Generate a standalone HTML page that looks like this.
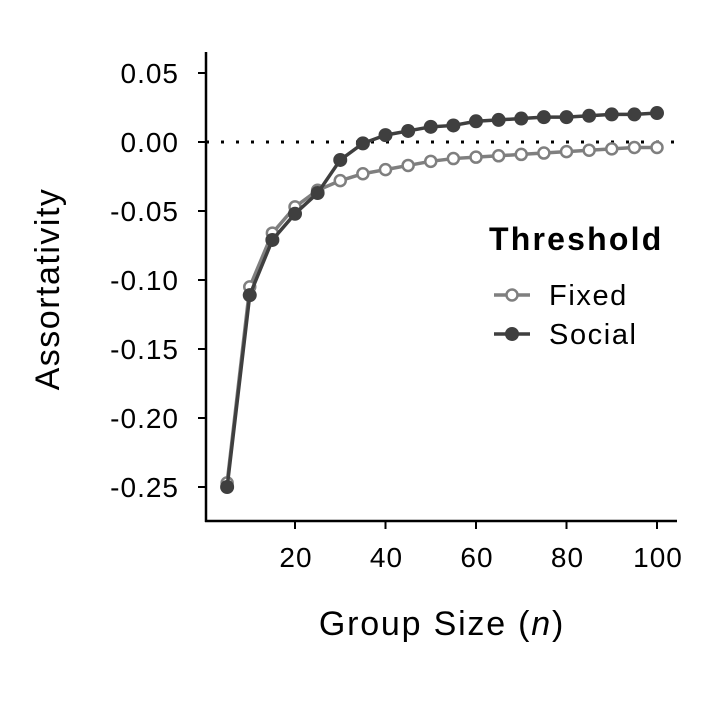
<!DOCTYPE html>
<html><head><meta charset="utf-8">
<style>
html,body{margin:0;padding:0;background:#fff;}
svg{display:block;font-family:"Liberation Sans",Arial,sans-serif;}
</style></head>
<body>
<svg id="chart" width="708" height="708" viewBox="0 0 708 708">
<rect width="708" height="708" fill="#fff"/>
<g id="axes"></g>
<g id="series"></g>
<g id="legend">
  <text x="489" y="250" font-size="32" font-weight="bold" letter-spacing="2.2" fill="#000">Threshold</text>
  <g>
    <line x1="494" y1="295" x2="530" y2="295" stroke="#7f7f7f" stroke-width="3.5"/>
    <circle cx="512" cy="295" r="5.5" fill="#fff" stroke="#7f7f7f" stroke-width="2.5"/>
    <text x="549" y="305" font-size="29" letter-spacing="1.6" fill="#000">Fixed</text>
  </g>
  <g>
    <line x1="494" y1="334" x2="530" y2="334" stroke="#3f3f3f" stroke-width="3.5"/>
    <circle cx="512" cy="334" r="7" fill="#3f3f3f"/>
    <text x="549" y="344" font-size="29" letter-spacing="1.6" fill="#000">Social</text>
  </g>
</g>
</svg>
<script>
const groupSizes = [5,10,15,20,25,30,35,40,45,50,55,60,65,70,75,80,85,90,95,100];
const fixedValues = [-0.247,-0.105,-0.066,-0.047,-0.035,-0.028,-0.023,-0.020,-0.017,-0.014,-0.012,-0.011,-0.010,-0.009,-0.008,-0.007,-0.006,-0.005,-0.004,-0.004];
const socialValues = [-0.250,-0.111,-0.071,-0.052,-0.037,-0.013,-0.001,0.005,0.008,0.011,0.012,0.015,0.016,0.017,0.018,0.018,0.019,0.020,0.020,0.021];
const xTicks = [20,40,60,80,100];
const yTicks = [0.05,0.00,-0.05,-0.10,-0.15,-0.20,-0.25];
const yTickLabels = ["0.05","0.00","-0.05","-0.10","-0.15","-0.20","-0.25"];

const NS = "http://www.w3.org/2000/svg";
function xs(v){ return 295 + (v-20)*4.525; }
function ys(v){ return 142 - v*1380; }
function mk(tag, attrs, parent){
  const e = document.createElementNS(NS, tag);
  for (const k in attrs) e.setAttribute(k, attrs[k]);
  parent.appendChild(e); return e;
}
const axes = document.getElementById('axes');
const yAxis = mk('line',{x1:206,y1:52,x2:206,y2:522,stroke:'#000','stroke-width':2.5},axes);


const xAxis = mk('line',{x1:205,y1:521,x2:677,y2:521,stroke:'#000','stroke-width':2.5},axes);


yTicks.forEach((v,i)=>{
  const y = ys(v);
  mk('line',{x1:198,y1:y,x2:206,y2:y,stroke:'#000','stroke-width':2},axes);
  const t = mk('text',{x:179,y:y+10,'font-size':28,'letter-spacing':1,'text-anchor':'end',fill:'#000'},axes);
  t.textContent = yTickLabels[i];
  
  
});
xTicks.forEach(v=>{
  const x = xs(v);
  mk('line',{x1:x,y1:521,x2:x,y2:529,stroke:'#000','stroke-width':2},axes);
  const t = mk('text',{x:x+1,y:567,'font-size':28,'letter-spacing':1,'text-anchor':'middle',fill:'#000'},axes);
  t.textContent = String(v);
  
  
});
const zero = mk('line',{x1:206,y1:ys(0),x2:677,y2:ys(0),stroke:'#000','stroke-width':3,'stroke-dasharray':'3,12'},axes);


const xt = mk('text',{x:442,y:635,'font-size':34,'letter-spacing':1.8,'text-anchor':'middle',fill:'#000'},axes);
xt.innerHTML = 'Group Size (<tspan font-style="italic">n</tspan>)';


const yt = mk('text',{x:0,y:0,'font-size':34,'letter-spacing':1.5,'text-anchor':'middle',fill:'#000',transform:'translate(59,289) rotate(-90)'},axes);
yt.textContent = 'Assortativity';



const series = document.getElementById('series');
function drawSeries(vals, color, filled, name){
  const g = mk('g',{},series);
  
  
  const pts = groupSizes.map((n,i)=>xs(n)+','+ys(vals[i])).join(' ');
  mk('polyline',{points:pts,fill:'none',stroke:color,'stroke-width':3.5},g);
  groupSizes.forEach((n,i)=>{
    const c = filled ? mk('circle',{cx:xs(n),cy:ys(vals[i]),r:7,fill:color},g)
                     : mk('circle',{cx:xs(n),cy:ys(vals[i]),r:5.5,fill:'#fff',stroke:color,'stroke-width':2.5},g);
    
    
  });
}
drawSeries(fixedValues,'#7f7f7f',false,'series-fixed');
drawSeries(socialValues,'#3f3f3f',true,'series-social');
</script>
</body></html>
